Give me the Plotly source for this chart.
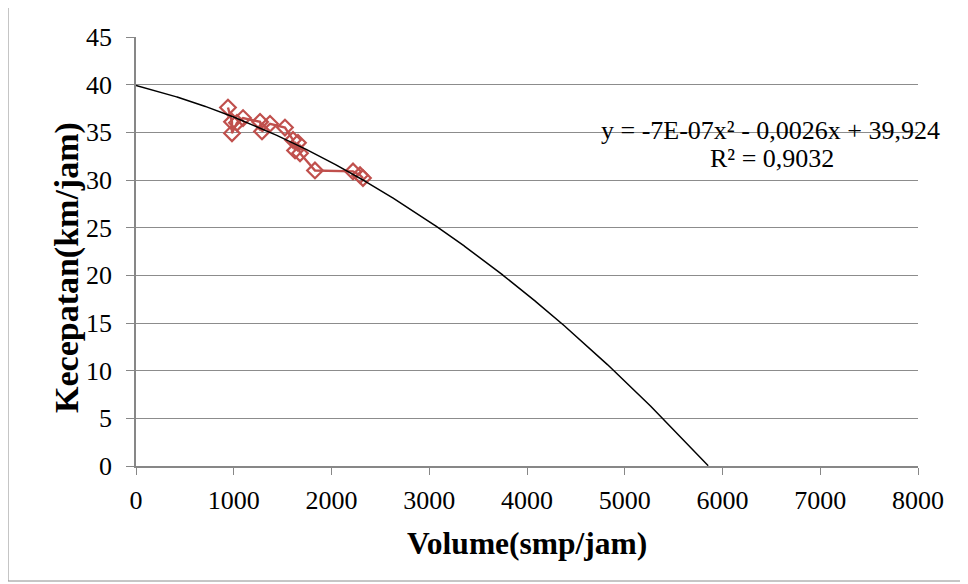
import numpy as np
import plotly.graph_objects as go

volume = [941, 982, 982, 1033, 1095, 1269, 1289, 1371, 1524, 1606, 1627, 1657, 1678, 1831, 2220, 2292, 2322]
speed = [37.6, 36.1, 34.9, 36.0, 36.5, 36.1, 35.1, 35.9, 35.5, 34.2, 33.1, 33.9, 32.8, 31.0, 30.9, 30.5, 30.2]

# Trendline coefficients (quadratic fit; displayed rounded in the label)
a2, a1, a0 = -7.2e-07, -0.0026, 39.924
eq_line1 = "y = -7E-07x² - 0,0026x + 39,924"
eq_line2 = "R² = 0,9032"

xt = np.linspace(0, 8000, 1600)
yt = a2 * xt**2 + a1 * xt + a0
mask = yt >= 0
xt, yt = xt[mask], yt[mask]

font = "Liberation Serif"

# page body has an 8px margin; plot area in window: x 136..918, y 37..466
L, T = 136 - 8, 37 - 8
W, H = 782, 429
R = 968 - (L + W)
B = 584 - (T + H)


def px(xw):
    return (xw - 136) / W


def py(yw):
    return (466 - yw) / H


def ann(x, y, text, size, **kw):
    return dict(x=px(x), y=py(y), xref="paper", yref="paper", text=text,
                showarrow=False, xanchor="center", yanchor="middle",
                font=dict(size=size), **kw)


fig = go.Figure()
fig.add_trace(go.Scatter(x=volume, y=speed, mode="lines+markers",
                         line=dict(color="#C0504D", width=2.4),
                         marker=dict(symbol="diamond-open", size=12, color="#C0504D",
                                     line=dict(width=2.2, color="#C0504D")),
                         showlegend=False))
fig.add_trace(go.Scatter(x=xt, y=yt, mode="lines", line=dict(color="black", width=1.5),
                         showlegend=False))

fig.update_layout(
    width=968, height=584,
    margin=dict(l=L, r=R, t=T, b=B),
    paper_bgcolor="white", plot_bgcolor="white",
    font=dict(family=font, size=26, color="black"),
    xaxis=dict(range=[0, 8000], tickvals=list(range(0, 8001, 1000)),
               showgrid=False, showline=True, linecolor="#878787", linewidth=1.5,
               ticks="outside", ticklen=7, tickcolor="#878787", zeroline=False,
               automargin=False, tickfont=dict(size=26), ticklabelstandoff=3),
    yaxis=dict(range=[0, 45], tickvals=list(range(0, 46, 5)),
               showgrid=True, gridcolor="#8c8c8c", gridwidth=1.2,
               showline=True, linecolor="#878787", linewidth=1.5,
               ticks="outside", ticklen=8, tickcolor="#878787", zeroline=False,
               automargin=False, tickfont=dict(size=26), ticklabelstandoff=9),
    shapes=[dict(type="rect", xref="paper", yref="paper",
                 x0=px(8), x1=px(966), y0=py(581), y1=py(7),
                 line=dict(color="#8c8c8c", width=1))],
    annotations=[
        ann(770, 130, eq_line1, 26),
        ann(772, 158, eq_line2, 26),
        ann(527, 543, "<b>Volume(smp/jam)</b>", 31.5),
        ann(67, 268, "<b>Kecepatan(km/jam)</b>", 34, textangle=-90),
    ],
)

fig.write_html("out.html")
